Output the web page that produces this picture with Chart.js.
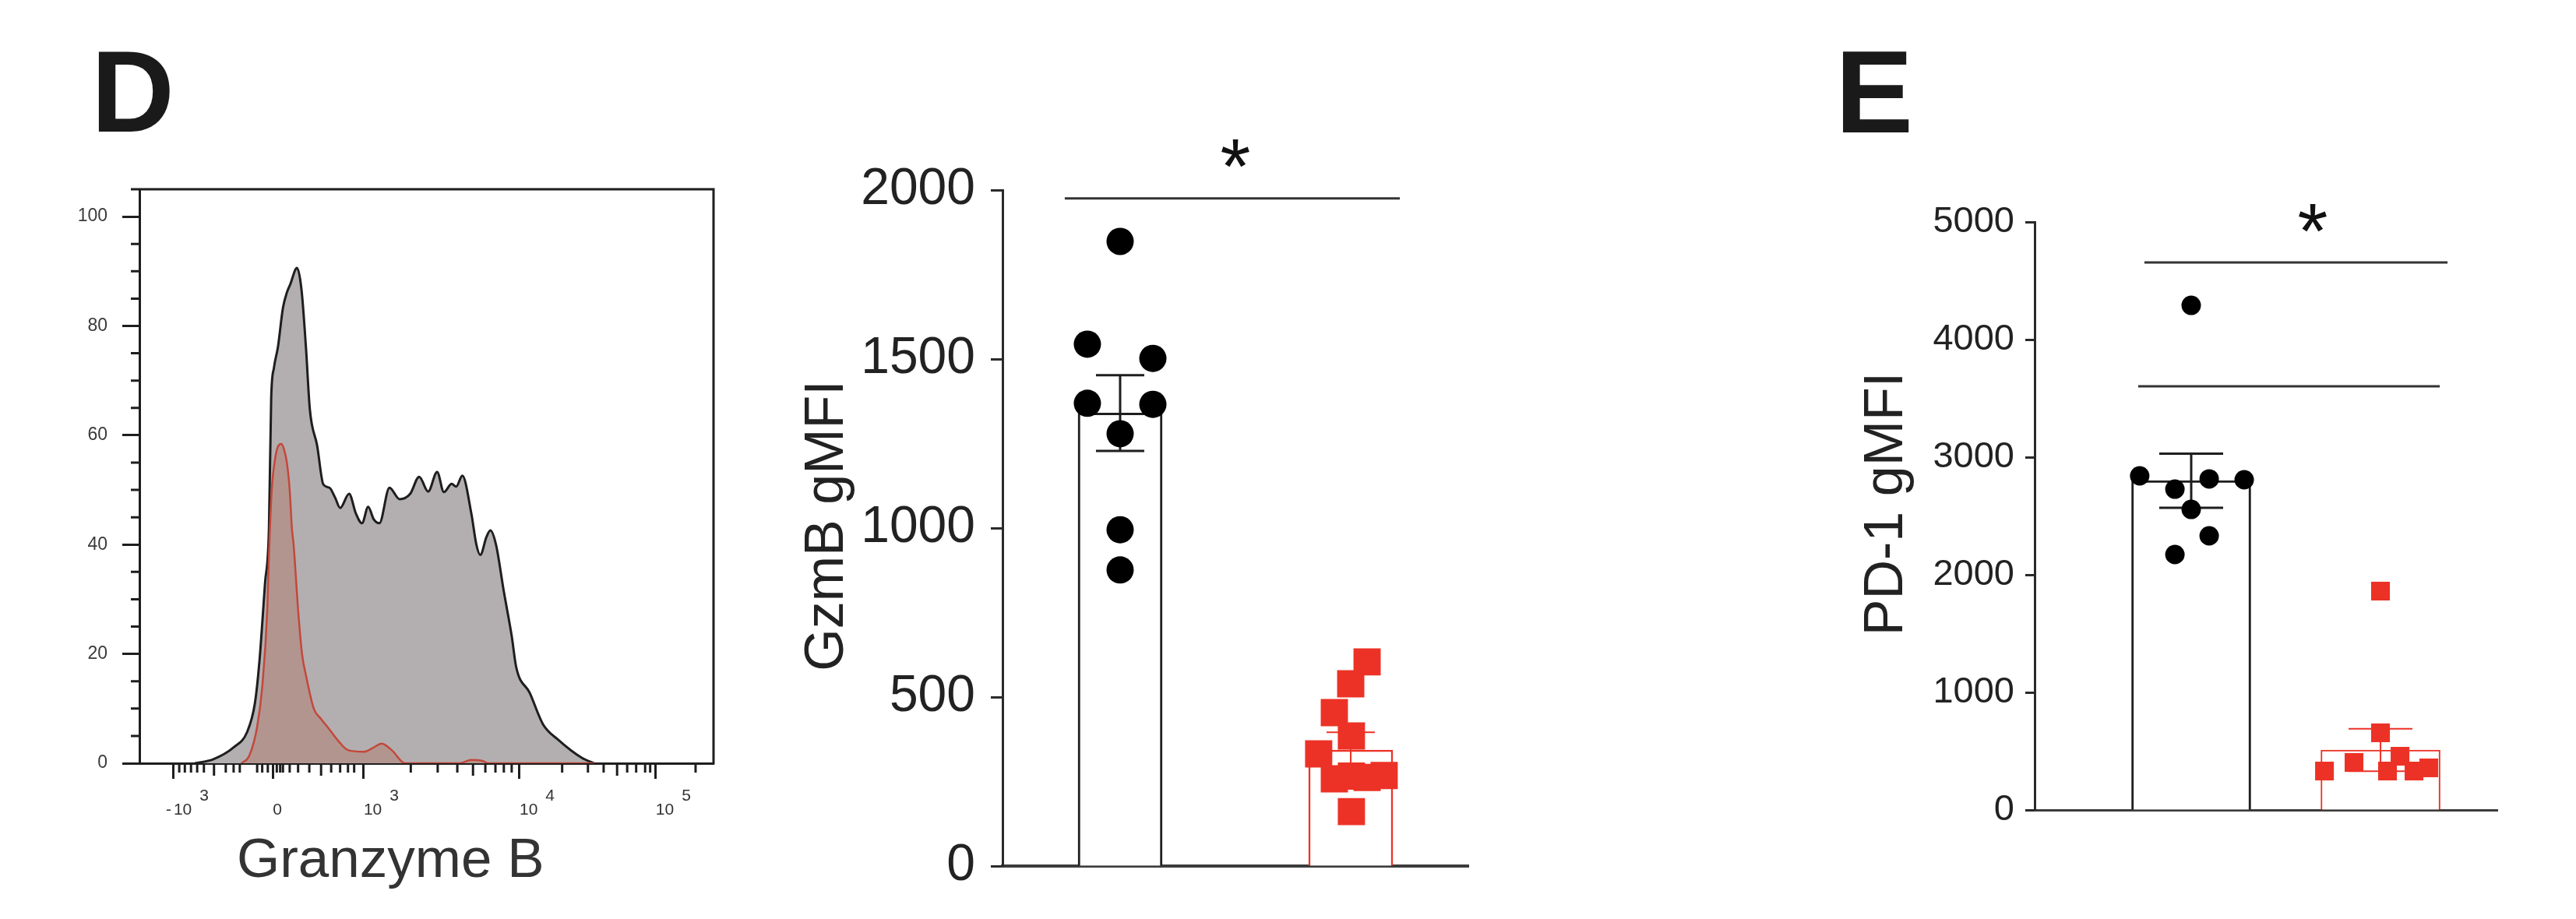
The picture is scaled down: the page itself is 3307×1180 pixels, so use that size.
<!DOCTYPE html>
<html>
<head>
<meta charset="utf-8">
<script src="https://cdn.jsdelivr.net/npm/chart.js@4.4.1/dist/chart.umd.min.js"></script>
<style>
html, body { margin: 0; padding: 0; background: #fff; }
#wrap { position: relative; width: 3307px; height: 1180px; }
#wrap canvas { position: absolute; left: 0; top: 0; }
</style>
</head>
<body>
<div id="wrap">
  <canvas id="histo" width="3307" height="1180"></canvas>
  <canvas id="gzmb" width="3307" height="1180"></canvas>
  <canvas id="pd1" width="3307" height="1180"></canvas>
</div>
<script>
var FONT = '"Liberation Sans", Arial, Helvetica, sans-serif';
var RED = '#ec3226';

// ---- panel D, histogram (x in display channels, y in % of max) ----
var grayX = [99, 131, 168, 192, 206, 214, 224, 231, 235, 240, 247, 256, 263, 269, 281, 289, 297, 304, 317, 328, 339, 349, 358, 374, 386, 397, 408, 418, 428, 446, 464, 483, 499, 515, 531, 543, 557, 565, 576, 592, 601, 608, 619, 626, 636, 650, 664, 672, 696, 720, 747, 789, 811];
var grayY = [0, 0.7, 2.9, 5.7, 11, 18.6, 32.9, 42.9, 66.7, 72.4, 76.1, 83.3, 86.1, 87.6, 90.6, 86.7, 76.1, 64.7, 58.1, 51, 50.4, 48.6, 46.7, 49.3, 45.7, 43.9, 46.9, 44.6, 43.9, 50.4, 48.3, 49.3, 52.4, 49.7, 53.3, 49.6, 51.1, 50.6, 52.6, 45.7, 40, 38.1, 41.4, 42.6, 40, 31.4, 23.3, 17.6, 12.9, 7.1, 4.3, 1, 0];
var redX = [182, 196, 210, 219, 228, 231, 236, 242, 247, 253, 258, 263, 268, 272, 275, 283, 290, 297, 311, 324, 335, 353, 372, 400, 418, 432, 450, 474, 571, 592, 613, 622, 811];
var redY = [0, 1.4, 6.7, 13.9, 28, 38, 50, 55.7, 57.9, 58.4, 57.4, 55, 50, 42.9, 40, 28.1, 20, 16.1, 10, 8.1, 6.7, 4.3, 2.4, 2.1, 2.9, 3.6, 2.4, 0, 0, 0.6, 0.4, 0, 0];

var histYTicks = [0, 20, 40, 60, 80, 100];
var histYMinor = [5, 10, 15, 25, 30, 35, 45, 50, 55, 65, 70, 75, 85, 90, 95, 105];
var histXTicks = [61, 238, 400, 678, 921];
var histXLabels = ['-10', '0', '10', '10', '10'];
var histXPowers = ['3', '', '3', '4', '5'];
var histXMinor = [71, 81, 92, 103, 115, 154, 168, 179, 210, 219, 229, 245, 251, 256, 268, 283, 303, 342, 358, 372, 383, 484, 532, 567, 617, 635, 650, 664, 754, 800, 828, 870, 886, 902, 911, 992];
var histXMid = [133, 324, 595, 852];

// ---- GzmB gMFI ----
var groupPos = [1, 2];
var gzmbMean = [1340, 343];
var gzmbSem = [112, 53];
var gzmbCtrlX = [1, 0.858, 1.142, 0.858, 1.142, 1, 1, 1];
var gzmbCtrlY = [1848, 1544, 1502, 1369, 1366, 1279, 995, 876];
var gzmbKoX = [2.071, 2.0, 1.929, 2.003, 1.861, 1.929, 2.003, 2.071, 2.145, 2.003];
var gzmbKoY = [604, 539, 454, 385, 332, 258, 266, 262, 268, 161];
var gzmbTicks = [0, 500, 1000, 1500, 2000];

// ---- PD-1 gMFI ----
var pd1Mean = [2800, 510];
var pd1Sem = [230, 180];
var pd1CtrlX = [1, 0.728, 0.914, 1.095, 1.28, 1, 1.095, 0.914];
var pd1CtrlY = [4291, 2841, 2728, 2815, 2808, 2556, 2331, 2172];
var pd1KoX = [2, 1.704, 1.86, 2, 2.037, 2.103, 2.177, 2.255];
var pd1KoY = [1861, 331, 404, 656, 331, 457, 331, 358];
var pd1Ticks = [0, 1000, 2000, 3000, 4000, 5000];

function pts(xs, ys) {
  return xs.map(function (x, i) { return { x: x, y: ys[i] }; });
}

function drawRotated(ctx, text, x, y, font, color) {
  ctx.save();
  ctx.translate(x, y);
  ctx.rotate(-Math.PI / 2);
  ctx.font = font;
  ctx.fillStyle = color;
  ctx.textAlign = 'center';
  ctx.textBaseline = 'alphabetic';
  ctx.fillText(text, 0, 0);
  ctx.restore();
}

// histogram frame, minor ticks, exponent labels
var histDecor = {
  id: 'histDecor',
  afterDraw: function (chart) {
    var ctx = chart.ctx, a = chart.chartArea, xs = chart.scales.x, ys = chart.scales.y;
    ctx.save();
    ctx.strokeStyle = '#1e1e1e';
    ctx.lineWidth = 3;
    ctx.beginPath();
    ctx.moveTo(a.left - 11, a.top);
    ctx.lineTo(a.right, a.top);
    ctx.lineTo(a.right, a.bottom + 1.5);
    histYMinor.forEach(function (v) {
      var y = ys.getPixelForValue(v);
      ctx.moveTo(a.left - 11, y); ctx.lineTo(a.left, y);
    });
    histXMinor.forEach(function (v) {
      var x = xs.getPixelForValue(v);
      ctx.moveTo(x, a.bottom); ctx.lineTo(x, a.bottom + 12);
    });
    histXMid.forEach(function (v) {
      var x = xs.getPixelForValue(v);
      ctx.moveTo(x, a.bottom); ctx.lineTo(x, a.bottom + 16);
    });
    ctx.stroke();

    ctx.fillStyle = '#333';
    ctx.font = '21px ' + FONT;
    ctx.textAlign = 'left';
    ctx.textBaseline = 'alphabetic';
    histXTicks.forEach(function (v, i) {
      var x = xs.getPixelForValue(v);
      var body = histXLabels[i];
      if (body.charAt(0) === '-') {
        ctx.fillText('-', x - 10, a.bottom + 66);
        body = body.slice(1);
      }
      ctx.fillText(body, x, a.bottom + 66);
      if (histXPowers[i]) {
        ctx.fillText(histXPowers[i], x + ctx.measureText(body).width + 10, a.bottom + 48);
      }
    });

    ctx.font = '71px ' + FONT;
    ctx.fillText('Granzyme B', a.left + 125, 1126);

    ctx.fillStyle = '#1a1a1a';
    ctx.font = 'bold 148px ' + FONT;
    ctx.fillText('D', 117, 169);
    ctx.restore();
  }
};

new Chart(document.getElementById('histo'), {
  type: 'line',
  data: {
    datasets: [
      {
        label: 'Control',
        data: pts(redX, redY),
        borderColor: '#c4473b',
        borderWidth: 2.5,
        backgroundColor: '#b3958f',
        fill: 'origin',
        pointRadius: 0,
        cubicInterpolationMode: 'monotone',
        order: 0
      },
      {
        label: 'Granzyme B',
        data: pts(grayX, grayY),
        borderColor: '#1e1e1e',
        borderWidth: 3,
        backgroundColor: '#b3afb0',
        fill: 'origin',
        pointRadius: 0,
        cubicInterpolationMode: 'monotone',
        order: 1
      }
    ]
  },
  options: {
    responsive: false,
    animation: false,
    layout: { padding: { left: 179 - 110, top: 243, right: 3307 - 916, bottom: 1180 - 980 - 40 } },
    plugins: { legend: { display: false }, tooltip: { enabled: false } },
    scales: {
      x: {
        type: 'linear', min: 0, max: 1024,
        afterFit: function (s) { s.height = 40; },
        afterBuildTicks: function (s) { s.ticks = histXTicks.map(function (v) { return { value: v }; }); },
        ticks: { display: false },
        grid: { drawOnChartArea: false, tickLength: 20, tickWidth: 3, tickColor: '#1e1e1e' },
        border: { color: '#1e1e1e', width: 3 }
      },
      y: {
        min: 0, max: 105,
        afterFit: function (s) { s.width = 110; },
        afterBuildTicks: function (s) { s.ticks = histYTicks.map(function (v) { return { value: v }; }); },
        ticks: { color: '#3a3a3a', padding: 19, font: { family: FONT, size: 23 }, callback: function (v) { return String(v); } },
        grid: { drawOnChartArea: false, tickLength: 22, tickWidth: 3, tickColor: '#1e1e1e' },
        border: { color: '#1e1e1e', width: 3 }
      }
    }
  },
  plugins: [histDecor]
});

// error bars, significance lines, titles for the bar panels
function barDecor(cfg) {
  return {
    id: 'decor_' + cfg.id,
    afterDatasetDraw: function (chart, args) {
      if (args.meta.type !== 'bar') return;
      var ctx = chart.ctx, xs = chart.scales.x, ys = chart.scales.y;
      ctx.save();
      for (var i = 0; i < cfg.mean.length; i++) {
        var cx = xs.getPixelForValue(groupPos[i]);
        var top = ys.getPixelForValue(cfg.mean[i] + cfg.sem[i]);
        var bot = ys.getPixelForValue(cfg.mean[i] - cfg.sem[i]);
        ctx.strokeStyle = cfg.errColor[i];
        ctx.lineWidth = cfg.errWidth[i];
        ctx.beginPath();
        ctx.moveTo(cx, top); ctx.lineTo(cx, bot);
        ctx.moveTo(cx - cfg.cap / 2, top); ctx.lineTo(cx + cfg.cap / 2, top);
        ctx.moveTo(cx - cfg.cap / 2, bot); ctx.lineTo(cx + cfg.cap / 2, bot);
        ctx.stroke();
      }
      ctx.restore();
    },
    afterDraw: function (chart) {
      var ctx = chart.ctx, xs = chart.scales.x, ys = chart.scales.y;
      ctx.save();
      ctx.strokeStyle = '#333';
      ctx.lineWidth = 3;
      ctx.beginPath();
      cfg.sigY.forEach(function (v, i) {
        var y = ys.getPixelForValue(v);
        ctx.moveTo(xs.getPixelForValue(cfg.sigX[i][0]), y);
        ctx.lineTo(xs.getPixelForValue(cfg.sigX[i][1]), y);
      });
      ctx.stroke();
      ctx.fillStyle = '#111';
      ctx.font = cfg.starSize + 'px ' + FONT;
      ctx.textAlign = 'center';
      ctx.textBaseline = 'alphabetic';
      ctx.fillText('*', xs.getPixelForValue(cfg.star[0]), ys.getPixelForValue(cfg.star[1]) + 0.577 * cfg.starSize);
      drawRotated(ctx, cfg.title, cfg.titleX, cfg.titleY, '70px ' + FONT, '#222');
      if (cfg.letter) {
        ctx.fillStyle = '#1a1a1a';
        ctx.font = 'bold 150px ' + FONT;
        ctx.textAlign = 'left';
        ctx.fillText(cfg.letter, cfg.letterX, cfg.letterY);
      }
      ctx.restore();
    }
  };
}

function barChart(id, o) {
  return new Chart(document.getElementById(id), {
    type: 'bar',
    data: {
      datasets: [
        {
          type: 'bar',
          data: pts(groupPos, o.mean),
          backgroundColor: '#fff',
          borderColor: ['#1e1e1e', RED],
          borderWidth: o.barBorder,
          barThickness: o.barWidth,
          order: 3
        },
        {
          type: 'scatter',
          data: pts(o.ctrlX, o.ctrlY),
          pointStyle: 'circle',
          pointRadius: o.dotR,
          backgroundColor: '#000',
          borderWidth: 0,
          order: 1
        },
        {
          type: 'scatter',
          data: pts(o.koX, o.koY),
          pointStyle: 'rect',
          pointRadius: o.sqR,
          backgroundColor: RED,
          borderWidth: 0,
          order: 1
        }
      ]
    },
    options: {
      responsive: false,
      animation: false,
      layout: { padding: { left: o.area[0] - o.axisBox, top: o.area[1], right: 3307 - o.area[2], bottom: 1180 - o.area[3] } },
      plugins: { legend: { display: false }, tooltip: { enabled: false } },
      scales: {
        x: {
          type: 'linear', min: o.xRange[0], max: o.xRange[1], offset: false,
          afterFit: function (s) { s.height = 0; },
          ticks: { display: false },
          grid: { display: false, offset: false },
          border: { color: '#3c3c3c', width: o.xAxisW }
        },
        y: {
          min: 0, max: o.yTicks[o.yTicks.length - 1],
          afterFit: function (s) { s.width = o.axisBox; },
          afterBuildTicks: function (s) { s.ticks = o.yTicks.map(function (v) { return { value: v }; }); },
          ticks: { color: '#222', padding: o.tickPad, font: { family: FONT, size: o.tickFont }, callback: function (v) { return String(v); } },
          grid: { drawOnChartArea: false, tickLength: o.tickLen, tickWidth: o.axisW, tickColor: '#2a2a2a' },
          border: { color: '#2a2a2a', width: o.axisW }
        }
      }
    },
    plugins: [barDecor(o.decor)]
  });
}

barChart('gzmb', {
  mean: gzmbMean, ctrlX: gzmbCtrlX, ctrlY: gzmbCtrlY, koX: gzmbKoX, koY: gzmbKoY,
  yTicks: gzmbTicks, area: [1287, 244, 1885, 1112], xRange: [0.49, 2.51], axisBox: 200,
  barWidth: 108, barBorder: [3, 2.5], dotR: 17.5, sqR: 24.7,
  tickFont: 66, tickPad: 20, tickLen: 15, axisW: 3, xAxisW: 4,
  decor: {
    id: 'gzmb', mean: gzmbMean, sem: gzmbSem, errColor: ['#1e1e1e', RED], errWidth: [3, 2], cap: 62,
    sigY: [1975], sigX: [[0.76, 2.213]], star: [1.5, 2124], starSize: 100,
    title: 'GzmB gMFI', titleX: 1082, titleY: 675
  }
});

barChart('pd1', {
  mean: pd1Mean, ctrlX: pd1CtrlX, ctrlY: pd1CtrlY, koX: pd1KoX, koY: pd1KoY,
  yTicks: pd1Ticks, area: [2612, 285, 3206, 1040], xRange: [0.173, 2.617], axisBox: 150,
  barWidth: 153, barBorder: [3, 2], dotR: 12.5, sqR: 17,
  tickFont: 47, tickPad: 14, tickLen: 12, axisW: 3, xAxisW: 3,
  decor: {
    id: 'pd1', mean: pd1Mean, sem: pd1Sem, errColor: ['#1e1e1e', RED], errWidth: [3, 2], cap: 82,
    sigY: [4656, 3603], sigX: [[0.753, 2.354], [0.72, 2.313]], star: [1.642, 5079], starSize: 100,
    title: 'PD-1 gMFI', titleX: 2442, titleY: 647,
    letter: 'E', letterX: 2356, letterY: 170
  }
});
</script>
</body>
</html>
